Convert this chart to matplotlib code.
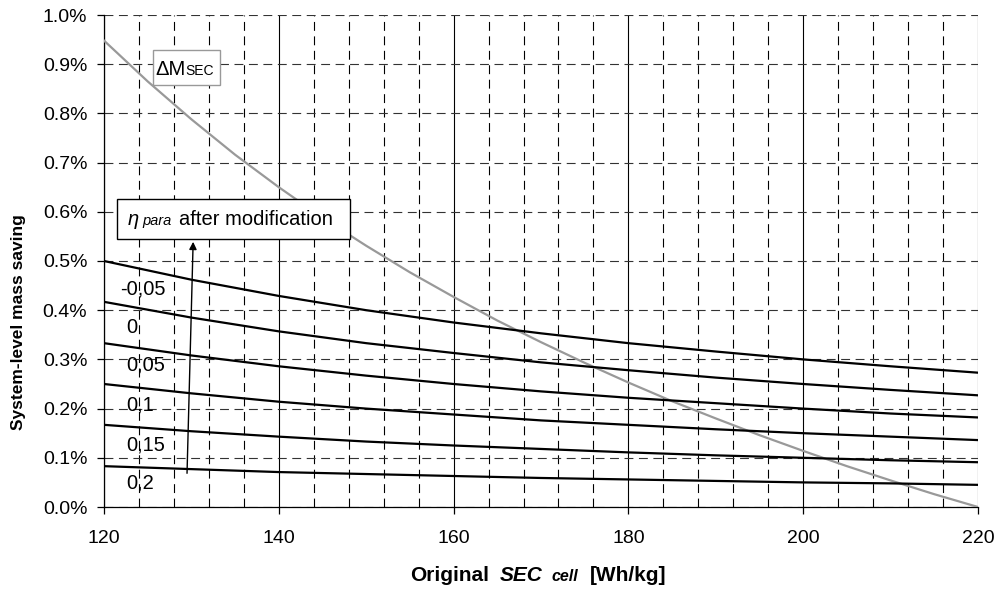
import matplotlib.pyplot as plt
from matplotlib.patches import Rectangle
from matplotlib.ticker import FuncFormatter, MultipleLocator

plt.rcParams["font.family"] = ["Liberation Sans", "DejaVu Sans"]

W, H = 999, 590

# original cell SEC [Wh/kg]
sec_cell = [120, 130, 140, 150, 160, 170, 180, 190, 200, 210, 220]

# system-level mass saving [%] per eta_para after modification
eta_labels = ["-0,05", "0", "0,05", "0,1", "0,15", "0,2"]
saving = {
    "-0,05": [0.500, 0.462, 0.429, 0.400, 0.375, 0.353, 0.333, 0.316, 0.300, 0.286, 0.273],
    "0": [0.417, 0.385, 0.357, 0.333, 0.313, 0.294, 0.278, 0.263, 0.250, 0.238, 0.227],
    "0,05": [0.333, 0.308, 0.286, 0.267, 0.250, 0.235, 0.222, 0.211, 0.200, 0.190, 0.182],
    "0,1": [0.250, 0.231, 0.214, 0.200, 0.188, 0.176, 0.167, 0.158, 0.150, 0.143, 0.136],
    "0,15": [0.167, 0.154, 0.143, 0.133, 0.125, 0.118, 0.111, 0.105, 0.100, 0.095, 0.091],
    "0,2": [0.083, 0.077, 0.071, 0.067, 0.063, 0.059, 0.056, 0.053, 0.050, 0.048, 0.045],
}

# delta M_SEC curve
sec_dm = [120, 125, 130, 135, 140, 145, 150, 155, 160, 165, 170,
          175, 180, 185, 190, 195, 200, 205, 210, 215, 220]
dm_sec = [0.948, 0.865, 0.788, 0.716, 0.650, 0.588, 0.531, 0.477, 0.427, 0.379, 0.335,
          0.293, 0.253, 0.215, 0.180, 0.146, 0.114, 0.083, 0.054, 0.026, 0.000]

# curve label anchors (left, baseline) in data units
label_pos = {
    "-0,05": (121.8, 0.431),
    "0": (122.6, 0.353),
    "0,05": (122.5, 0.277),
    "0,1": (122.5, 0.197),
    "0,15": (122.6, 0.114),
    "0,2": (122.6, 0.037),
}

FS = 14.5


def text_row(fig, x, y, pieces, ha="left"):
    # lay out several differently styled pieces on one baseline (pixel coords)
    r = fig.canvas.get_renderer()
    objs = []
    for s, kw, gap in pieces:
        t = fig.text(0, 0, s, va="baseline", **kw)
        objs.append((t, gap))
    widths = [t.get_window_extent(r).width + gap for t, gap in objs]
    start = x - sum(widths) / 2 if ha == "center" else x
    for (t, gap), w in zip(objs, widths):
        t.set_position((start / W, 1 - y / H))
        start += w


def main():
    fig = plt.figure(figsize=(W / 100, H / 100), dpi=100)
    ax = fig.add_axes([104 / W, 1 - 507 / H, 874 / W, 492 / H])

    ax.plot(sec_dm, dm_sec, color="#999999", lw=1.6, zorder=3)
    for lab in eta_labels:
        ax.plot(sec_cell, saving[lab], color="black", lw=1.6, zorder=4)
        lx, ly = label_pos[lab]
        ax.text(lx, ly, lab, fontsize=FS, ha="left", va="baseline", zorder=5)

    ax.set_xlim(120, 220)
    ax.set_ylim(0, 1.0)
    ax.xaxis.set_major_locator(MultipleLocator(20))
    ax.xaxis.set_minor_locator(MultipleLocator(4))
    ax.yaxis.set_major_locator(MultipleLocator(0.1))
    ax.yaxis.set_major_formatter(FuncFormatter(lambda v, p: f"{v:.1f}%"))

    dash = (0, (8, 5))
    ax.grid(True, which="major", axis="x", color="black", lw=0.8, ls="-")
    ax.grid(True, which="minor", axis="x", color="black", lw=0.8, ls=dash)
    ax.grid(True, which="major", axis="y", color="#333333", lw=0.8, ls=dash)
    ax.set_axisbelow(True)

    for side in ("top", "right"):
        ax.spines[side].set_visible(False)
    ax.spines["left"].set_linewidth(0.9)
    ax.spines["bottom"].set_linewidth(0.9)

    ax.tick_params(axis="both", which="major", labelsize=14, length=5, width=0.9,
                   direction="out", colors="black")
    ax.tick_params(axis="x", which="minor", length=3, width=0.6, direction="in")
    ax.tick_params(axis="x", which="major", pad=11.5)
    ax.tick_params(axis="y", which="major", pad=7)

    ax.annotate("", xy=(130.2, 0.539), xytext=(129.5, 0.0685),
                arrowprops=dict(arrowstyle="-|>", color="black", lw=1.0,
                                mutation_scale=11, shrinkA=0, shrinkB=0),
                zorder=6)

    # boxed annotations
    fig.patches.append(Rectangle((153 / W, 1 - 85 / H), 67 / W, 35 / H,
                                 transform=fig.transFigure, facecolor="white",
                                 edgecolor="#999999", lw=1.0, zorder=10))
    fig.patches.append(Rectangle((117 / W, 1 - 239 / H), 233 / W, 40 / H,
                                 transform=fig.transFigure, facecolor="white",
                                 edgecolor="black", lw=1.0, zorder=10))
    fig.canvas.draw()
    text_row(fig, 155, 75, [
        ("\u0394M", dict(fontsize=FS, zorder=11), 0),
        ("SEC", dict(fontsize=10, zorder=11), 0),
    ])
    text_row(fig, 128, 225, [
        ("\u03b7", dict(fontsize=FS, style="italic", zorder=11), 3),
        ("para", dict(fontsize=10.5, style="italic", zorder=11), 8),
        ("after modification", dict(fontsize=FS, zorder=11), 0),
    ])

    # axis titles
    fig.text(19 / W, 1 - 322 / H, "System-level mass saving", rotation=90,
             ha="center", va="center", fontsize=12.5, fontweight="bold")
    xlab = [
        (410, "Original", dict(fontsize=15, fontweight="bold")),
        (500, "SEC", dict(fontsize=15, fontweight="bold", style="italic")),
        (551, "cell", dict(fontsize=11.5, fontweight="bold", style="italic")),
        (590, "[Wh/kg]", dict(fontsize=15, fontweight="bold")),
    ]
    for px, s, kw in xlab:
        fig.text(px / W, 1 - 581 / H, s, ha="left", va="baseline", **kw)

    fig.savefig("out.png", dpi=100)
    plt.close(fig)


if __name__ == "__main__":
    main()
